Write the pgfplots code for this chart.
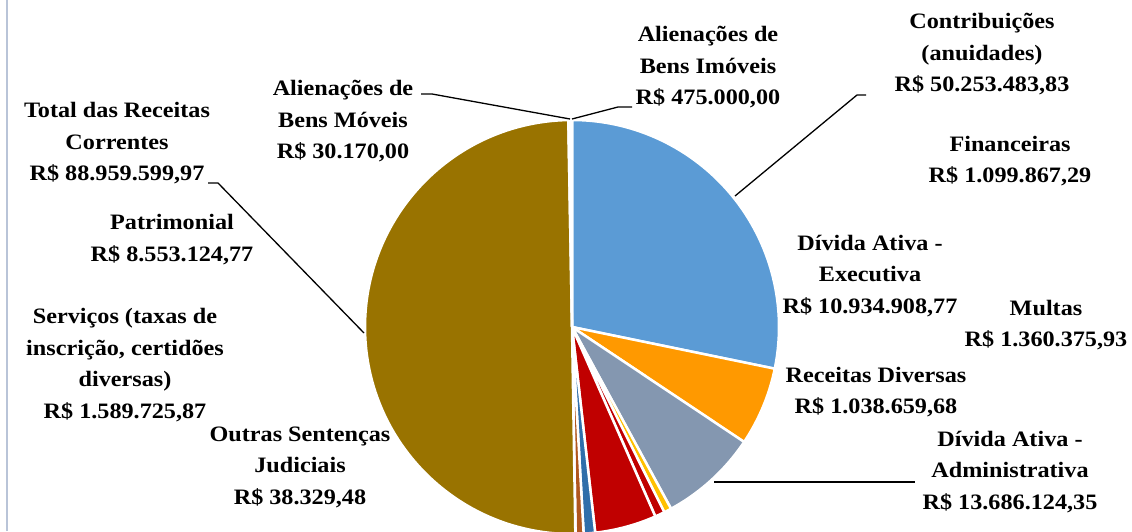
\documentclass[border=0pt]{standalone}
\usepackage{fontspec}
\setmainfont{Liberation Serif}[FakeStretch=1.10]
\usepackage{pgfplots}
\usepackage{pgfplotstable}
\pgfplotsset{compat=1.18}
\definecolor{cblue}{HTML}{5B9BD5}
\definecolor{corange}{HTML}{FF9900}
\definecolor{cgray}{HTML}{8497B0}
\definecolor{cyellow}{HTML}{FFC000}
\definecolor{cred}{HTML}{C00000}
\definecolor{cdblue}{HTML}{2F6EAA}
\definecolor{csienna}{HTML}{B0561E}
\definecolor{cbrown}{HTML}{997300}
\definecolor{cframe}{HTML}{B9C4D8}
% values in millions of R$
\pgfplotstableread{
value color
50.25348383 cblue
10.93490877 corange
13.68612435 cgray
1.03865968 cyellow
1.36037593 cred
8.55312477 cred
1.58972587 cdblue
1.09986729 csienna
0.03832948 csienna
88.95959997 cbrown
0.475 white
0.03017 white
}\pietable
\begin{document}
\begin{tikzpicture}[lab/.style={align=center,font=\fontsize{22}{31.5}\selectfont\bfseries,inner sep=0pt}]
\begin{axis}[x=1pt,y=1pt,xmin=0,xmax=1132,ymin=0,ymax=531,hide axis,clip=true,anchor=south west,at={(0,0)}]
\pgfplotsextra{%
  \pgfplotstablegetrowsof{\pietable}\pgfmathtruncatemacro\lastrow{\pgfplotsretval-1}%
  \gdef\pietot{0}%
  \foreach \i in {0,...,\lastrow}{%
    \pgfplotstablegetelem{\i}{value}\of\pietable
    \pgfmathparse{\pietot+\pgfplotsretval}\xdef\pietot{\pgfmathresult}}%
  \gdef\piecum{0}%
  \foreach \i in {0,...,\lastrow}{%
    \pgfplotstablegetelem{\i}{value}\of\pietable \let\sv\pgfplotsretval
    \pgfplotstablegetelem{\i}{color}\of\pietable \let\slicecol\pgfplotsretval
    \pgfmathsetmacro\sa{90-(\piecum/\pietot)*360}%
    \pgfmathsetmacro\sb{90-((\piecum+\sv)/\pietot)*360}%
    \fill[fill=\slicecol,draw=white,line width=2.5pt,line join=round] (axis cs:572,204) -- ++(\sa:207pt) arc[start angle=\sa,end angle=\sb,radius=207pt] -- cycle;
    \pgfmathparse{\piecum+\sv}\xdef\piecum{\pgfmathresult}}%
}
\draw[black,line width=1.3pt] (axis cs:208,348) -- (axis cs:218,348) -- (axis cs:364,198);
\draw[black,line width=1.3pt] (axis cs:735,335) -- (axis cs:857,436) -- (axis cs:866,436);
\draw[black,line width=1.3pt] (axis cs:421,437) -- (axis cs:432,437) -- (axis cs:570,412);
\draw[black,line width=1.3pt] (axis cs:572,412) -- (axis cs:618,424) -- (axis cs:632,424);
\draw[black,line width=1.3pt] (axis cs:714,49) -- (axis cs:915,49);
\draw[cframe,line width=1.5pt] (axis cs:7,0) -- (axis cs:7,531);
\node[lab] at (axis cs:708,463.5) {Alienações de\\Bens Imóveis\\R\$ 475.000,00};
\node[lab] at (axis cs:982,476.5) {Contribuições\\(anuidades)\\R\$ 50.253.483,83};
\node[lab] at (axis cs:1010,370) {Financeiras\\R\$ 1.099.867,29};
\node[lab] at (axis cs:870,255) {Dívida Ativa -\\Executiva\\R\$ 10.934.908,77};
\node[lab] at (axis cs:1046,206) {Multas\\R\$ 1.360.375,93};
\node[lab] at (axis cs:876,139) {Receitas Diversas\\R\$ 1.038.659,68};
\node[lab] at (axis cs:1010,59) {Dívida Ativa -\\Administrativa\\R\$ 13.686.124,35};
\node[lab] at (axis cs:300,64) {Outras Sentenças\\Judiciais\\R\$ 38.329,48};
\node[lab] at (axis cs:125,166) {Serviços (taxas de\\inscrição, certidões\\diversas)\\R\$ 1.589.725,87};
\node[lab] at (axis cs:172,291.5) {Patrimonial\\R\$ 8.553.124,77};
\node[lab] at (axis cs:117,387.5) {Total das Receitas\\Correntes\\R\$ 88.959.599,97};
\node[lab] at (axis cs:343,409.5) {Alienações de\\Bens Móveis\\R\$ 30.170,00};
\end{axis}
\pgfresetboundingbox
\useasboundingbox (0,0) rectangle (1132pt,531pt);
\end{tikzpicture}
\end{document}
